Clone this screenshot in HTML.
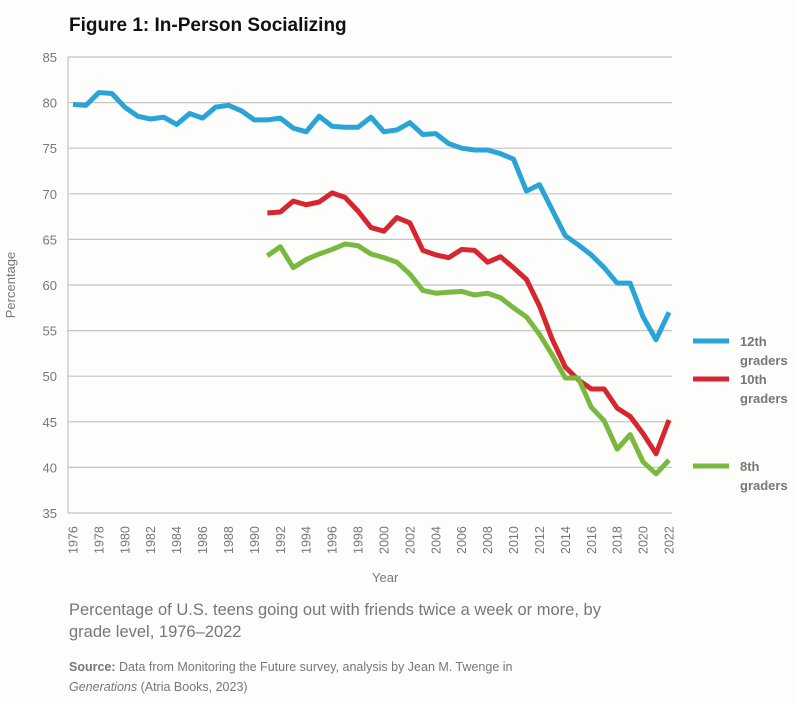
<!DOCTYPE html>
<html><head><meta charset="utf-8"><style>
body{margin:0;background:#fdfdfc;width:796px;height:704px;overflow:hidden;font-family:"Liberation Sans",sans-serif}
svg{position:absolute;left:0;top:0}
</style></head><body>
<svg width="796" height="704">
<text x="69" y="31" font-size="19" font-weight="bold" fill="#111">Figure 1: In-Person Socializing</text>
<g id="grid"></g><g id="yt"></g><g id="xt"></g><g id="lines"></g>
<text x="372" y="582" font-size="13" fill="#777">Year</text>
<text transform="translate(15,285) rotate(-90)" text-anchor="middle" font-size="13" fill="#777">Percentage</text>
<g><line x1="693" x2="729" y1="341" y2="341" stroke="#2aa3d6" stroke-width="5"/><text x="740" y="346" font-size="13" font-weight="bold" fill="#777">12th</text><text x="740" y="365" font-size="13" font-weight="bold" fill="#777">graders</text></g>
<g><line x1="693" x2="729" y1="379" y2="379" stroke="#d62730" stroke-width="5"/><text x="740" y="384" font-size="13" font-weight="bold" fill="#777">10th</text><text x="740" y="403" font-size="13" font-weight="bold" fill="#777">graders</text></g>
<g><line x1="693" x2="729" y1="466" y2="466" stroke="#7ab93f" stroke-width="5"/><text x="740" y="471" font-size="13" font-weight="bold" fill="#777">8th</text><text x="740" y="490" font-size="13" font-weight="bold" fill="#777">graders</text></g>
<text x="69" y="615" font-size="16.5" fill="#777">Percentage of U.S. teens going out with friends twice a week or more, by</text>
<text x="69" y="637" font-size="16.5" fill="#777">grade level, 1976–2022</text>
<text x="69" y="671" font-size="12.5" fill="#777"><tspan font-weight="bold">Source:</tspan> Data from Monitoring the Future survey, analysis by Jean M. Twenge in</text>
<text x="69" y="691" font-size="12.5" fill="#777"><tspan font-style="italic">Generations</tspan> (Atria Books, 2023)</text>
</svg>
<script>
const yTicks=[35,40,45,50,55,60,65,70,75,80,85];
const years12=[1976,1977,1978,1979,1980,1981,1982,1983,1984,1985,1986,1987,1988,1989,1990,1991,1992,1993,1994,1995,1996,1997,1998,1999,2000,2001,2002,2003,2004,2005,2006,2007,2008,2009,2010,2011,2012,2013,2014,2015,2016,2017,2018,2019,2020,2021,2022];
const g12=[79.8,79.7,81.1,81.0,79.5,78.5,78.2,78.4,77.6,78.8,78.3,79.5,79.7,79.1,78.1,78.1,78.3,77.2,76.8,78.5,77.4,77.3,77.3,78.4,76.8,77.0,77.8,76.5,76.6,75.5,75.0,74.8,74.8,74.4,73.8,70.3,71.0,68.2,65.4,64.4,63.3,61.9,60.2,60.2,56.5,54.0,57.0];
const yearsLow=[1991,1992,1993,1994,1995,1996,1997,1998,1999,2000,2001,2002,2003,2004,2005,2006,2007,2008,2009,2010,2011,2012,2013,2014,2015,2016,2017,2018,2019,2020,2021,2022];
const g10=[67.9,68.0,69.2,68.8,69.1,70.1,69.6,68.1,66.3,65.9,67.4,66.8,63.8,63.3,63.0,63.9,63.8,62.5,63.1,61.9,60.6,57.7,54.0,51.0,49.6,48.6,48.6,46.5,45.6,43.7,41.5,45.2];
const g8=[63.2,64.2,61.9,62.8,63.4,63.9,64.5,64.3,63.4,63.0,62.5,61.2,59.4,59.1,59.2,59.3,58.9,59.1,58.6,57.5,56.5,54.6,52.3,49.8,49.8,46.6,45.1,42.0,43.6,40.6,39.3,40.8];
const xTickYears=[];for(let y=1976;y<=2022;y+=2)xTickYears.push(y);
const NS="http://www.w3.org/2000/svg";
const X=y=>73+(y-1976)*(596/46);
const Y=v=>513-(v-35)*(456/50);
function mk(t,a,p){const e=document.createElementNS(NS,t);for(const k in a)e.setAttribute(k,a[k]);p.appendChild(e);return e;}
const grid=document.getElementById('grid'),yt=document.getElementById('yt'),xt=document.getElementById('xt'),ln=document.getElementById('lines');
yTicks.forEach(v=>{
 const l=mk('line',{x1:68,x2:672,y1:Y(v),y2:Y(v),stroke:'#c4c4c4','stroke-width':1.2},grid);
 
 
 const t=mk('text',{x:57,y:Y(v)+5,'text-anchor':'end','font-size':13,fill:'#777'},yt);t.textContent=v;
 
 
});
const ax=mk('line',{x1:68,x2:68,y1:57,y2:513,stroke:'#c4c4c4','stroke-width':1.2},grid);


xTickYears.forEach(y=>{
 const t=mk('text',{transform:`translate(${X(y)+4.5},554) rotate(-90)`,'font-size':12.5,fill:'#777'},xt);t.textContent=y;
 
 
});
function series(xs,vs,c,name){
 const p=mk('polyline',{points:xs.map((y,i)=>X(y)+','+Y(vs[i])).join(' '),fill:'none',stroke:c,'stroke-width':5,'stroke-linejoin':'round'},ln);
 
 
}
series(years12,g12,'#2aa3d6','line-12th-graders');
series(yearsLow,g10,'#d62730','line-10th-graders');
series(yearsLow,g8,'#7ab93f','line-8th-graders');
</script>
</body></html>
